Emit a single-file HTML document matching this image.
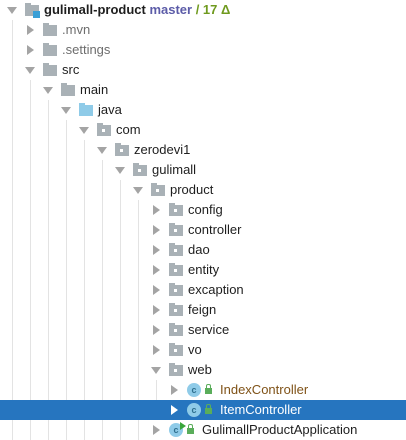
<!DOCTYPE html>
<html><head><meta charset="utf-8"><style>
body{margin:0;width:406px;height:440px;background:#fff;position:relative;overflow:hidden;font-family:"Liberation Sans","Microsoft YaHei",sans-serif;font-size:13px;color:#1e1e1e}
.r{position:absolute;left:0;width:406px;height:20px}
.sel{background:#2675bf}
.vl{position:absolute;width:1px;background:#e3e3e3}
.ad{position:absolute;width:0;height:0;border-left:5px solid transparent;border-right:5px solid transparent;border-top:7px solid #a4a4a4;top:7px}
.ar{position:absolute;width:0;height:0;border-top:5px solid transparent;border-bottom:5px solid transparent;border-left:7px solid #a4a4a4;top:5px}
.f{position:absolute;top:5px;width:14px;height:11px;background:#a9b1b6}
.f:before{content:"";position:absolute;left:0;top:-2px;width:6px;height:2px;background:#a9b1b6}
.f.p:after{content:"";position:absolute;left:5px;top:4px;width:3px;height:3px;background:#fff}
.f.j,.f.j:before{background:#8fcbe8}
.t{position:absolute;top:2px;white-space:nowrap;line-height:16px}
.c{position:absolute;top:3px;width:14px;height:14px;border-radius:50%;background:#8fcbe8;color:#2e6f8e;font-size:9px;text-align:center;line-height:14px;font-weight:bold}
.lk{position:absolute;top:8px;width:7px;height:6px;background:#5aad5a}
.lk:before{content:"";position:absolute;left:1px;top:-4px;width:3px;height:4px;border:1px solid #5aad5a;border-bottom:none;border-radius:2px 2px 0 0}
</style></head><body>
<!-- vertical guide lines -->
<div class="vl" style="left:12px;top:20px;height:420px"></div>
<div class="vl" style="left:30px;top:80px;height:360px"></div>
<div class="vl" style="left:48px;top:100px;height:340px"></div>
<div class="vl" style="left:66px;top:120px;height:320px"></div>
<div class="vl" style="left:84px;top:140px;height:300px"></div>
<div class="vl" style="left:102px;top:160px;height:280px"></div>
<div class="vl" style="left:120px;top:180px;height:260px"></div>
<div class="vl" style="left:138px;top:200px;height:240px"></div>
<div class="vl" style="left:156px;top:380px;height:40px"></div>

<div class="r" style="top:0"><div class="ad" style="left:7px"></div><div class="f" style="left:25px"></div><div style="position:absolute;left:33px;top:11px;width:7px;height:7px;background:#3a9fd6"></div><div class="t" style="left:44px;font-weight:bold">gulimall-product <span style="color:#5c5ca8;font-weight:bold">master</span><span style="color:#6f9a1e"> / 17 Δ</span></div></div>
<div class="r" style="top:20px"><div class="ar" style="left:27px"></div><div class="f" style="left:43px"></div><div class="t" style="left:62px;color:#6d6d6d">.mvn</div></div>
<div class="r" style="top:40px"><div class="ar" style="left:27px"></div><div class="f" style="left:43px"></div><div class="t" style="left:62px;color:#6d6d6d">.settings</div></div>
<div class="r" style="top:60px"><div class="ad" style="left:25px"></div><div class="f" style="left:43px"></div><div class="t" style="left:62px">src</div></div>
<div class="r" style="top:80px"><div class="ad" style="left:43px"></div><div class="f" style="left:61px"></div><div class="t" style="left:80px">main</div></div>
<div class="r" style="top:100px"><div class="ad" style="left:61px"></div><div class="f j" style="left:79px"></div><div class="t" style="left:98px">java</div></div>
<div class="r" style="top:120px"><div class="ad" style="left:79px"></div><div class="f p" style="left:97px"></div><div class="t" style="left:116px">com</div></div>
<div class="r" style="top:140px"><div class="ad" style="left:97px"></div><div class="f p" style="left:115px"></div><div class="t" style="left:134px">zerodevi1</div></div>
<div class="r" style="top:160px"><div class="ad" style="left:115px"></div><div class="f p" style="left:133px"></div><div class="t" style="left:152px">gulimall</div></div>
<div class="r" style="top:180px"><div class="ad" style="left:133px"></div><div class="f p" style="left:151px"></div><div class="t" style="left:170px">product</div></div>
<div class="r" style="top:200px"><div class="ar" style="left:153px"></div><div class="f p" style="left:169px"></div><div class="t" style="left:188px">config</div></div>
<div class="r" style="top:220px"><div class="ar" style="left:153px"></div><div class="f p" style="left:169px"></div><div class="t" style="left:188px">controller</div></div>
<div class="r" style="top:240px"><div class="ar" style="left:153px"></div><div class="f p" style="left:169px"></div><div class="t" style="left:188px">dao</div></div>
<div class="r" style="top:260px"><div class="ar" style="left:153px"></div><div class="f p" style="left:169px"></div><div class="t" style="left:188px">entity</div></div>
<div class="r" style="top:280px"><div class="ar" style="left:153px"></div><div class="f p" style="left:169px"></div><div class="t" style="left:188px">excaption</div></div>
<div class="r" style="top:300px"><div class="ar" style="left:153px"></div><div class="f p" style="left:169px"></div><div class="t" style="left:188px">feign</div></div>
<div class="r" style="top:320px"><div class="ar" style="left:153px"></div><div class="f p" style="left:169px"></div><div class="t" style="left:188px">service</div></div>
<div class="r" style="top:340px"><div class="ar" style="left:153px"></div><div class="f p" style="left:169px"></div><div class="t" style="left:188px">vo</div></div>
<div class="r" style="top:360px"><div class="ad" style="left:151px"></div><div class="f p" style="left:169px"></div><div class="t" style="left:188px">web</div></div>
<div class="r" style="top:380px"><div class="ar" style="left:171px"></div><div class="c" style="left:187px">c</div><div class="lk" style="left:205px"></div><div class="t" style="left:220px;color:#7f5217">IndexController</div></div>
<div class="r sel" style="top:400px"><div class="ar" style="left:171px;border-left-color:#fff"></div><div class="c" style="left:187px">c</div><div class="lk" style="left:205px"></div><div class="t" style="left:220px;color:#fff">ItemController</div></div>
<div class="r" style="top:420px"><div class="ar" style="left:153px"></div><div class="c" style="left:169px">c</div><div style="position:absolute;left:180px;top:2px;width:0;height:0;border-top:4px solid transparent;border-bottom:4px solid transparent;border-left:6px solid #3aa63a"></div><div class="lk" style="left:187px"></div><div class="t" style="left:202px">GulimallProductApplication</div></div>
</body></html>
